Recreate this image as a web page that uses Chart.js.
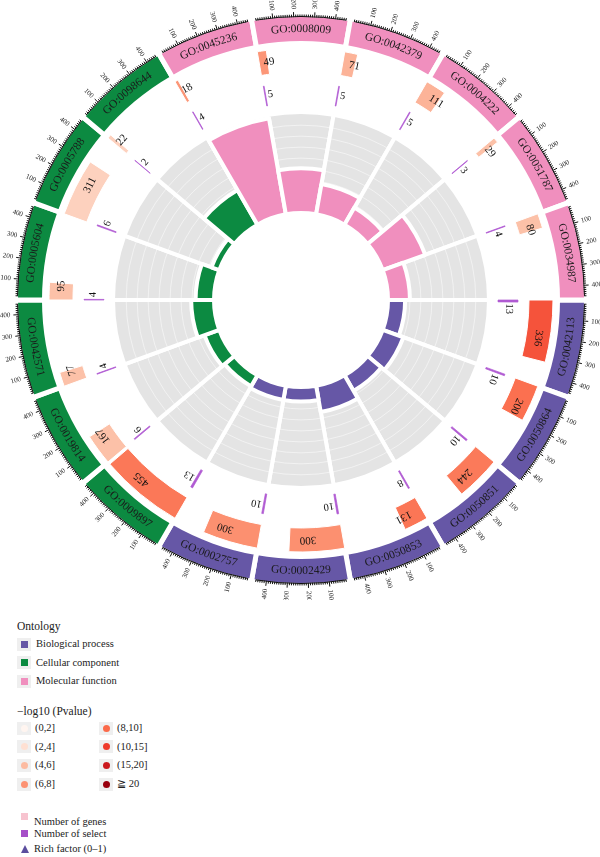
<!DOCTYPE html>
<html>
<head>
<meta charset="utf-8">
<script src="https://cdn.jsdelivr.net/npm/chart.js@4.4.1/dist/chart.umd.min.js"></script>
<style>
  body { margin: 0; background: #fff; width: 600px; height: 857px; overflow: hidden;
         font-family: "Liberation Serif", "DejaVu Serif", serif; color: #222; }
  #wrap { position: absolute; left: 0; top: 0; width: 600px; height: 600px; }
  #wrap canvas { position: absolute; left: 0; top: 0; }
  .lg { position: absolute; white-space: nowrap; font-size: 10.5px; line-height: 14px; }
  .key { position: absolute; width: 14px; height: 13px; background: #efefef; }
</style>
</head>
<body>
<div id="wrap">
  <canvas id="outer" width="600" height="600"></canvas>
  <canvas id="richBg" width="600" height="600"></canvas>
  <canvas id="rich" width="600" height="600"></canvas>
</div>
<div id="legend"></div>
<script>
// GO terms, clockwise from 3 o'clock
const GO_TERMS = ['GO:0042113', 'GO:0050864', 'GO:0050851', 'GO:0050853', 'GO:0002429', 'GO:0002757',
                  'GO:0009897', 'GO:0019814', 'GO:0042571', 'GO:0005604', 'GO:0005788', 'GO:0098644',
                  'GO:0045236', 'GO:0008009', 'GO:0042379', 'GO:0004222', 'GO:0051787', 'GO:0034987'];
const ONTOLOGY = ['BP', 'BP', 'BP', 'BP', 'BP', 'BP', 'CC', 'CC', 'CC', 'CC', 'CC', 'CC',
                  'MF', 'MF', 'MF', 'MF', 'MF', 'MF'];
const GENE_COUNTS = [336, 200, 244, 131, 300, 300, 455, 167, 77, 95, 311, 22, 18, 49, 71, 111, 29, 80];
const SELECT_COUNTS = [13, 10, 10, 8, 10, 10, 13, 6, 4, 4, 6, 2, 4, 5, 5, 5, 3, 4];
const RICH_FACTOR = [0.039, 0.050, 0.041, 0.061, 0.033, 0.033, 0.029, 0.036, 0.052, 0.042, 0.019, 0.091,
                     0.222, 0.102, 0.070, 0.045, 0.103, 0.050];
const NEG_LOG10_P = [9.0, 7.7, 7.2, 7.4, 6.1, 6.1, 7.3, 3.7, 3.7, 3.7, 2.8, 2.8, 5.8, 5.8, 4.4, 4.4, 3.7, 3.7];

const AXIS_MAX = 470;              // gene scale of one sector
const AXIS_LABELS = [100, 200, 300, 400];
const RICH_MAX = 0.23;

const ONTO_KEYS = ['BP', 'CC', 'MF'];
const ONTO_NAMES = ['Biological process', 'Cellular component', 'Molecular function'];
const ONTO_COLORS = { BP: '#6657a6', CC: '#0c8a41', MF: '#f08fbe' };

const P_BREAKS = [0, 2, 4, 6, 8, 10, 15, 20];
const P_COLORS = ['#fff5f0', '#fee0d2', '#fcbba1', '#fc9272', '#fb6a4a', '#ef3b2c', '#cb181d', '#99000d'];
const P_LABELS = ['(0,2]', '(2,4]', '(4,6]', '(6,8]', '(8,10]', '(10,15]', '(15,20]', '\u2267 20'];

const SELECT_COLOR = '#b05ad2';
const FONT = '"Liberation Serif", "DejaVu Serif", serif';

function hexRgb(h) {
    const n = parseInt(h.slice(1), 16);
    return [n >> 16, (n >> 8) & 255, n & 255];
}
function pColor(v) {
    for (let k = 1; k < P_BREAKS.length; k++) {
        if (v <= P_BREAKS[k]) {
            const t = (v - P_BREAKS[k - 1]) / (P_BREAKS[k] - P_BREAKS[k - 1]);
            const a = hexRgb(P_COLORS[k - 1]), b = hexRgb(P_COLORS[k]);
            return 'rgb(' + a.map((c, j) => Math.round(c + (b[j] - c) * t)).join(',') + ')';
        }
    }
    return P_COLORS[P_COLORS.length - 1];
}

// ---------- outer rings (doughnut) ----------
const BAND_BORDER = 5;
const TRANSPARENT = 'rgba(0,0,0,0)';

const geneData = [], geneColors = [], geneBorders = [];
const selData = [], selColors = [], selBorders = [];
GENE_COUNTS.forEach((g, i) => {
    geneData.push(g, AXIS_MAX - g);
    geneColors.push(pColor(NEG_LOG10_P[i]), TRANSPARENT);
    geneBorders.push(1, 0);
    selData.push(SELECT_COUNTS[i], AXIS_MAX - SELECT_COUNTS[i]);
    selColors.push(SELECT_COLOR, TRANSPARENT);
    selBorders.push(0.7, 0);
});

function spacer(weight) {
    return { data: [1], backgroundColor: TRANSPARENT, borderWidth: 0, weight: weight, hoverOffset: 0 };
}

function bentText(ctx, text, cx, cy, r, mid, flip) {
    const chars = [...text];
    const widths = chars.map(ch => ctx.measureText(ch).width);
    const total = widths.reduce((a, b) => a + b, 0);
    let acc = 0;
    chars.forEach((ch, k) => {
        const off = (acc + widths[k] / 2 - total / 2) / r;
        const a = flip ? mid - off : mid + off;
        ctx.save();
        ctx.translate(cx + r * Math.cos(a), cy + r * Math.sin(a));
        ctx.rotate(flip ? a - Math.PI / 2 : a + Math.PI / 2);
        ctx.fillText(ch, 0, 0);
        ctx.restore();
        acc += widths[k];
    });
}

function radialText(ctx, text, cx, cy, r, a) {
    ctx.save();
    ctx.translate(cx + r * Math.cos(a), cy + r * Math.sin(a));
    ctx.rotate(a + Math.PI / 2);
    ctx.fillText(text, 0, 0);
    ctx.restore();
}

const ringText = {
    id: 'ringText',
    afterDraw(chart) {
        const ctx = chart.ctx;
        const bands = chart.getDatasetMeta(0).data;
        const genes = chart.getDatasetMeta(2).data;
        const sels = chart.getDatasetMeta(4).data;
        ctx.save();

        // sector axes with ticks
        bands.forEach(arc => {
            const { x, y, startAngle: s, endAngle: e } = arc;
            const rBase = arc.outerRadius - BAND_BORDER / 2;
            const gapA = (BAND_BORDER / 2 + 1) / rBase;
            const unit = (e - s) / AXIS_MAX;
            const ticks = [];
            for (let v = 0; v <= AXIS_MAX; v += 10) {
                const a = s + v * unit;
                if (a >= s + gapA && a <= e - gapA) ticks.push([v, a]);
            }
            ctx.strokeStyle = '#111';
            ctx.lineWidth = 1;
            ctx.beginPath();
            ctx.arc(x, y, rBase + 0.5, ticks[0][1], ticks[ticks.length - 1][1]);
            ctx.stroke();
            ticks.forEach(([v, a]) => {
                const len = v % 100 === 0 ? 5 : 2.5;
                ctx.beginPath();
                ctx.moveTo(x + rBase * Math.cos(a), y + rBase * Math.sin(a));
                ctx.lineTo(x + (rBase + len) * Math.cos(a), y + (rBase + len) * Math.sin(a));
                ctx.stroke();
            });
            ctx.fillStyle = '#222';
            ctx.font = '7px ' + FONT;
            ctx.textBaseline = 'middle';
            AXIS_LABELS.forEach(v => {
                const a = s + v * unit;
                const r = rBase + 8;
                ctx.save();
                ctx.translate(x + r * Math.cos(a), y + r * Math.sin(a));
                if (Math.cos(a) >= -0.001) { ctx.rotate(a); ctx.textAlign = 'left'; }
                else { ctx.rotate(a + Math.PI); ctx.textAlign = 'right'; }
                ctx.fillText(String(v), 0, 0);
                ctx.restore();
            });
        });

        // GO labels on the band
        ctx.fillStyle = '#1a1a1a';
        ctx.font = '11.5px ' + FONT;
        ctx.textAlign = 'center';
        ctx.textBaseline = 'middle';
        bands.forEach((arc, i) => {
            const mid = (arc.startAngle + arc.endAngle) / 2;
            const r = (arc.innerRadius + arc.outerRadius) / 2;
            bentText(ctx, GO_TERMS[i], arc.x, arc.y, r, mid, Math.sin(mid) > 0);
        });

        // gene counts and select counts
        ctx.fillStyle = '#111';
        ctx.textAlign = 'left';
        ctx.font = '11px ' + FONT;
        GENE_COUNTS.forEach((g, i) => {
            const arc = genes[2 * i];
            radialText(ctx, String(g), arc.x, arc.y, (arc.innerRadius + arc.outerRadius) / 2,
                       (arc.startAngle + arc.endAngle) / 2);
        });
        ctx.font = '10.5px ' + FONT;
        SELECT_COUNTS.forEach((n, i) => {
            const arc = sels[2 * i];
            radialText(ctx, String(n), arc.x, arc.y, (arc.innerRadius + arc.outerRadius) / 2 + 1,
                       (arc.startAngle + arc.endAngle) / 2 + 0.012);
        });
        ctx.restore();
    }
};

new Chart(document.getElementById('outer'), {
    type: 'doughnut',
    data: {
        labels: GO_TERMS,
        datasets: [
            { data: GO_TERMS.map(() => 1), backgroundColor: ONTOLOGY.map(o => ONTO_COLORS[o]),
              borderColor: '#fff', borderWidth: BAND_BORDER, weight: 29, hoverOffset: 0 },
            spacer(4.5),
            { data: geneData, backgroundColor: geneColors, borderColor: '#fff',
              borderWidth: geneBorders, weight: 24, hoverOffset: 0 },
            spacer(11),
            { data: selData, backgroundColor: selColors, borderColor: SELECT_COLOR,
              borderWidth: selBorders, weight: 20, hoverOffset: 0 }
        ]
    },
    options: {
        responsive: false,
        animation: false,
        devicePixelRatio: 1,
        rotation: 90,
        cutout: 197,
        layout: { padding: { left: 13, right: 11, top: 12, bottom: 12 } },
        events: [],
        plugins: { legend: { display: false }, tooltip: { enabled: false } }
    },
    plugins: [ringText]
});

// ---------- rich factor ring (polar area with an inner radius) ----------
class RingBarController extends Chart.PolarAreaController {
    updateElement(element, index, properties, mode) {
        if (properties && 'outerRadius' in properties) {
            const scale = this._cachedMeta.rScale;
            properties.innerRadius = scale.getDistanceFromCenterForValue(this.getDataset().base);
        }
        super.updateElement(element, index, properties, mode);
    }
}
RingBarController.id = 'ringBar';
Chart.register(RingBarController);

const RICH_R = 188;      // outer radius of the ring area
const RICH_R0 = 87;      // radius of rich factor 0
const RICH_MIN = -RICH_MAX * RICH_R0 / (RICH_R - RICH_R0);

function richChart(id, values, colors, base, showGrid) {
    return new Chart(document.getElementById(id), {
        type: 'ringBar',
        data: {
            labels: GO_TERMS,
            datasets: [{ data: values, backgroundColor: colors, borderColor: '#fff',
                         borderWidth: 4, base: base }]
        },
        options: {
            responsive: false,
            animation: false,
            devicePixelRatio: 1,
            events: [],
            layout: { padding: { left: 301 - RICH_R, right: 600 - 301 - RICH_R,
                                 top: 300 - RICH_R, bottom: 600 - 300 - RICH_R } },
            plugins: { legend: { display: false }, tooltip: { enabled: false } },
            scales: {
                r: {
                    min: RICH_MIN, max: RICH_MAX, startAngle: 90,
                    ticks: { display: false, stepSize: 0.025, z: 1 },
                    grid: { display: showGrid, color: 'rgba(255,255,255,0.5)', lineWidth: 1, z: 1 },
                    angleLines: { display: false },
                    pointLabels: { display: false }
                }
            }
        }
    });
}

richChart('richBg', GO_TERMS.map(() => RICH_MAX), GO_TERMS.map(() => '#e4e4e4'),
          RICH_MIN + (RICH_MAX - RICH_MIN) * 84 / RICH_R, true);
richChart('rich', RICH_FACTOR, ONTOLOGY.map(o => ONTO_COLORS[o]), 0, false);

// ---------- legend ----------
const legend = document.getElementById('legend');
function put(html, left, yc, extra) {
    const d = document.createElement('div');
    d.className = 'lg';
    d.style.left = left + 'px';
    d.style.top = (yc - 7) + 'px';
    if (extra) Object.assign(d.style, extra);
    d.innerHTML = html;
    legend.appendChild(d);
}
function key(left, yc, inner) {
    const d = document.createElement('div');
    d.className = 'key';
    d.style.left = left + 'px';
    d.style.top = (yc - 6.5) + 'px';
    d.appendChild(inner);
    legend.appendChild(d);
}
function mark(shape, color, size) {
    const m = document.createElement('div');
    m.style.position = 'absolute';
    m.style.width = size + 'px';
    m.style.height = size + 'px';
    m.style.left = (14 - size) / 2 + 'px';
    m.style.top = (13 - size) / 2 + 'px';
    m.style.background = color;
    if (shape === 'circle') m.style.borderRadius = '50%';
    return m;
}

put('Ontology', 17, 626, { fontSize: '11.5px' });
ONTO_KEYS.forEach((k, i) => {
    const yc = 644 + i * 18.5;
    key(17, yc, mark('square', ONTO_COLORS[k], 7));
    put(ONTO_NAMES[i], 36, yc);
});

put('\u2212log10 (Pvalue)', 17, 711, { fontSize: '11.5px' });
P_LABELS.forEach((lab, i) => {
    const col = Math.floor(i / 4), row = i % 4;
    const yc = 728 + row * 18.7;
    const x = col === 0 ? 17 : 99;
    key(x, yc, mark('circle', P_COLORS[i], 7));
    put(lab, x + 18, yc);
});

const k1 = mark('square', '#f7c3cf', 7);
k1.style.left = '21px'; k1.style.top = '813px';
legend.appendChild(k1);
put('Number of genes', 34, 822);
const k2 = mark('square', '#a64fc8', 7);
k2.style.left = '21px'; k2.style.top = '830px';
legend.appendChild(k2);
put('Number of select', 34, 834);
const tri = document.createElement('div');
Object.assign(tri.style, { position: 'absolute', left: '21px', top: '845px', width: 0, height: 0,
    borderLeft: '4.5px solid transparent', borderRight: '4.5px solid transparent',
    borderBottom: '8px solid #5b4e9e' });
legend.appendChild(tri);
put('Rich factor (0\u20131)', 34, 849);
</script>
</body>
</html>
